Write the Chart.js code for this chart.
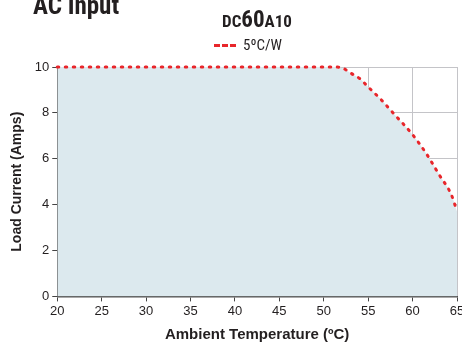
<!DOCTYPE html>
<html lang="en">
<head>
    <meta charset="UTF-8">
    <title>DC60A10 Derating</title>
    <script src="https://cdn.jsdelivr.net/npm/chart.js"></script>
    <style>
        body {
            margin: 0;
            background: #fff;
            font-family: "Liberation Sans Narrow", "Roboto Condensed", "DejaVu Sans Condensed", sans-serif;
            color: #231f20;
        }
        .wrap {
            position: relative;
            width: 462px;
            height: 351px;
            overflow: hidden;
        }
        .heading {
            position: absolute;
            left: 33px;
            top: -9px;
            font-size: 25px;
            font-weight: bold;
        }
        .model {
            position: absolute;
            left: 0;
            width: 514px;
            top: 6px;
            text-align: center;
            font-weight: bold;
            font-size: 17px;
        }
        .model .big { font-size: 23px; }
        .legend {
            position: absolute;
            left: 214px;
            top: 36px;
            font-size: 15px;
            display: flex;
            align-items: center;
        }
        .legend .dash {
            width: 22px;
            height: 0;
            border-top: 3px dashed #e8262b;
            margin-right: 7px;
        }
        #chart {
            position: absolute;
            left: 0;
            top: 0;
        }
    </style>
</head>
<body>
<div class="wrap">
    <canvas id="chart" width="462" height="351"></canvas>
    <div class="heading">AC Input</div>
    <div class="model">DC<span class="big">60</span>A10</div>
    <div class="legend"><span class="dash"></span>5ºC/W</div>
</div>
<script>
    // Derating curve
    const temps = [20, 30, 40, 50, 51.4, 52.2, 53.1, 54.1, 55, 56.4, 57.8, 60, 61.5, 63, 64.4, 65];
    const amps = [10, 10, 10, 10, 10, 9.94, 9.72, 9.48, 9.13, 8.6, 8.0, 7.05, 6.25, 5.3, 4.4, 3.7];
    const xTicks = [20, 25, 30, 35, 40, 45, 50, 55, 60, 65];
    const yTicks = [0, 2, 4, 6, 8, 10];
    const seriesName = '5ºC/W';

    const tickFont = { family: "'Liberation Sans Narrow', sans-serif", size: 13 };
    const titleFont = { family: "'Liberation Sans Narrow', sans-serif", size: 15, weight: 'bold' };

    new Chart(document.getElementById('chart'), {
        type: 'line',
        data: {
            datasets: [{
                label: seriesName,
                data: temps.map((t, i) => ({ x: t, y: amps[i] })),
                borderColor: '#e8262b',
                borderWidth: 3,
                borderDash: [1.5, 6.5],
                borderCapStyle: 'round',
                backgroundColor: '#dce9ee',
                fill: 'origin',
                pointRadius: 0,
                clip: 6,
                cubicInterpolationMode: 'monotone'
            }]
        },
        options: {
            responsive: false,
            animation: false,
            layout: { padding: { top: 67, right: 0, left: 5, bottom: 3 } },
            plugins: { legend: { display: false }, tooltip: { enabled: false } },
            scales: {
                x: {
                    type: 'linear',
                    min: 20,
                    max: 65,
                    afterBuildTicks: s => { s.ticks = xTicks.map(v => ({ value: v })); },
                    afterFit: s => { s.paddingRight = 5; },
                    ticks: { color: '#231f20', font: tickFont, padding: 2, maxRotation: 0 },
                    grid: { color: '#c4c4c8', lineWidth: 1, tickLength: 5, tickColor: '#444' },
                    border: { color: '#555', width: 1.5 },
                    title: { display: true, text: 'Ambient Temperature (ºC)', color: '#231f20', font: titleFont, padding: { top: 5 } }
                },
                y: {
                    min: 0,
                    max: 10,
                    afterBuildTicks: s => { s.ticks = yTicks.map(v => ({ value: v })); },
                    ticks: { color: '#231f20', font: tickFont, padding: 3 },
                    grid: { color: '#c4c4c8', lineWidth: 1, tickLength: 5, tickColor: '#444' },
                    border: { color: '#555', width: 1.5 },
                    title: { display: true, text: 'Load Current (Amps)', color: '#231f20', font: { family: "'Liberation Sans Narrow', sans-serif", size: 14, weight: 'bold' }, padding: { bottom: 6 } }
                }
            }
        }
    });
</script>
</body>
</html>
